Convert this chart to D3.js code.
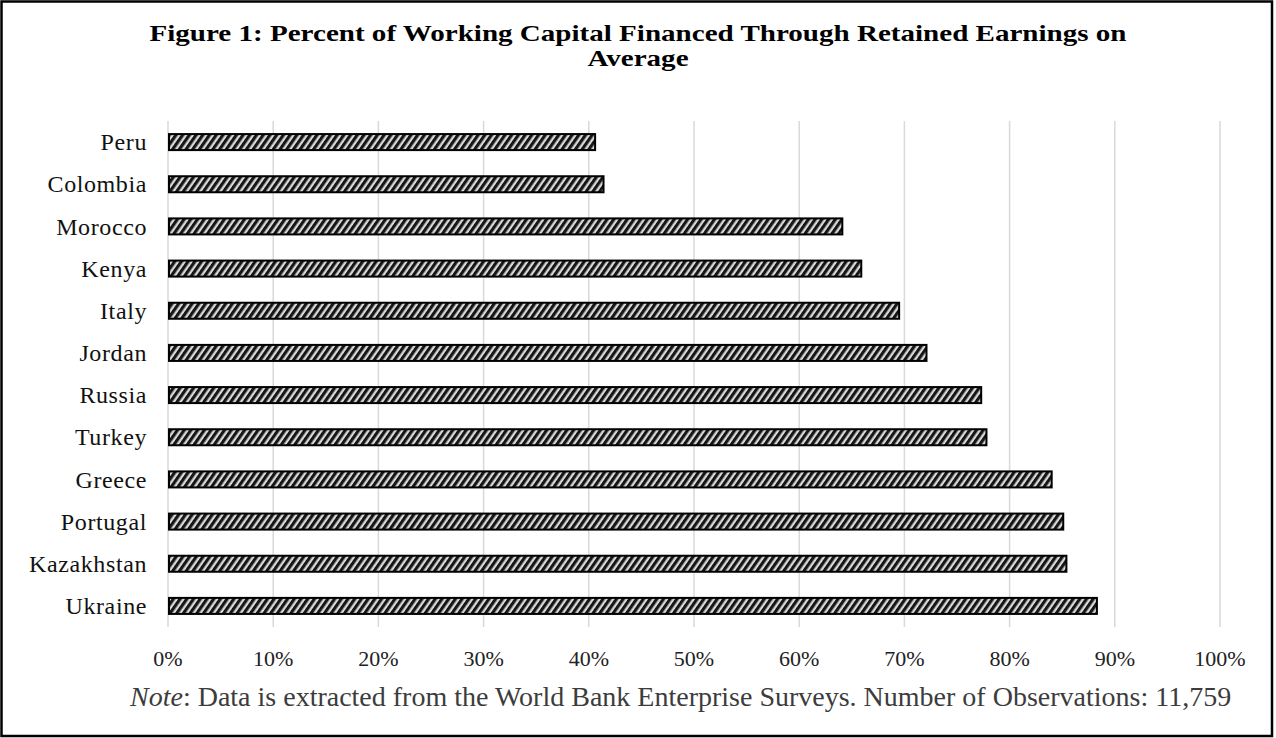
<!DOCTYPE html>
<html>
<head>
<meta charset="utf-8">
<script src="https://cdn.jsdelivr.net/npm/d3@7"></script>
<style>
  body { margin: 0; background: #fff; }
  svg { display: block; }
</style>
</head>
<body>
<div id="chart"></div>
<script>
// data (percent of working capital from retained earnings)
const countries = ["Peru", "Colombia", "Morocco", "Kenya", "Italy", "Jordan",
  "Russia", "Turkey", "Greece", "Portugal", "Kazakhstan", "Ukraine"];
const values = [40.6, 41.4, 64.1, 65.9, 69.5, 72.1, 77.3, 77.8, 84.0, 85.1, 85.4, 88.3];
const ticks = [0, 10, 20, 30, 40, 50, 60, 70, 80, 90, 100];

const titleLines = ["Figure 1: Percent of Working Capital Financed Through Retained Earnings on", "Average"];

const width = 1276, height = 738;
const margin = {top: 121, right: 56, bottom: 111, left: 168};
const serif = "'Liberation Serif', 'Times New Roman', serif";

const svg = d3.select("#chart").append("svg")
  .attr("width", width)
  .attr("height", height);

// hatch fill like the excel pattern
const defs = svg.append("defs");
const pat = defs.append("pattern")
  .attr("id", "hatch")
  .attr("patternUnits", "userSpaceOnUse")
  .attr("width", 5.5)
  .attr("height", 5.5)
  .attr("patternTransform", "rotate(35)");
pat.append("rect").attr("width", 5.5).attr("height", 5.5).attr("fill", "#dcdcdc");
pat.append("rect").attr("width", 2.8).attr("height", 5.5).attr("fill", "#161616");
pat.append("rect").attr("x", 2.8).attr("width", 0.9).attr("height", 5.5).attr("fill", "#7a7a7a");

// outer frame
svg.append("rect")
  .attr("x", 1.5).attr("y", 1.5)
  .attr("width", 1270.5).attr("height", 734.5)
  .attr("fill", "white")
  .attr("stroke", "black")
  .attr("stroke-width", 2.5);

const x = d3.scaleLinear()
  .domain([0, 100])
  .range([margin.left, width - margin.right]);

const y = d3.scaleBand()
  .domain(countries)
  .range([margin.top, height - margin.bottom])
  .paddingInner(0.62)
  .paddingOuter(0.31);

// title, glyphs stretched to the width of the original heading
const title = svg.append("g")
  .selectAll("text")
  .data(titleLines)
  .join("text")
    .attr("x", width / 2)
    .attr("y", (d, i) => 41 + i * 25)
    .attr("text-anchor", "middle")
    .attr("font-family", serif)
    .attr("font-weight", "bold")
    .attr("font-size", 24)
    .attr("fill", "#000")
    .text(d => d);
const lens = title.nodes().map(n => n.getComputedTextLength());
const stretch = 977 / lens[0];
title
  .attr("textLength", (d, i) => lens[i] * stretch)
  .attr("lengthAdjust", "spacingAndGlyphs");

// gridlines
svg.append("g")
  .selectAll("line")
  .data(ticks)
  .join("line")
    .attr("x1", d => x(d))
    .attr("x2", d => x(d))
    .attr("y1", margin.top)
    .attr("y2", height - margin.bottom)
    .attr("stroke", "#d9d9d9")
    .attr("stroke-width", 1.5);

// bars
svg.append("g")
  .selectAll("rect")
  .data(countries)
  .join("rect")
    .attr("x", x(0) + 1)
    .attr("y", d => y(d))
    .attr("width", (d, i) => x(values[i]) - x(0) - 1)
    .attr("height", y.bandwidth())
    .attr("fill", "url(#hatch)")
    .attr("stroke", "black")
    .attr("stroke-width", 2);

// category labels
svg.append("g")
  .selectAll("text")
  .data(countries)
  .join("text")
    .attr("x", margin.left - 21)
    .attr("y", d => y(d) + y.bandwidth() / 2)
    .attr("dy", "0.34em")
    .attr("text-anchor", "end")
    .attr("font-family", serif)
    .attr("font-size", 24)
    .attr("letter-spacing", 0.6)
    .attr("fill", "#111")
    .text(d => d);

// x tick labels
svg.append("g")
  .selectAll("text")
  .data(ticks)
  .join("text")
    .attr("x", d => x(d))
    .attr("y", 666)
    .attr("text-anchor", "middle")
    .attr("font-family", serif)
    .attr("font-size", 22)
    .attr("fill", "#222")
    .text(d => d + "%");

// note
const note = svg.append("text")
  .attr("x", 130)
  .attr("y", 706)
  .attr("font-family", serif)
  .attr("font-size", 28)
  .attr("fill", "#3c3c3c");
note.append("tspan").attr("font-style", "italic").text("Note");
note.append("tspan").text(": Data is extracted from the World Bank Enterprise Surveys. Number of Observations: 11,759");
</script>
</body>
</html>
